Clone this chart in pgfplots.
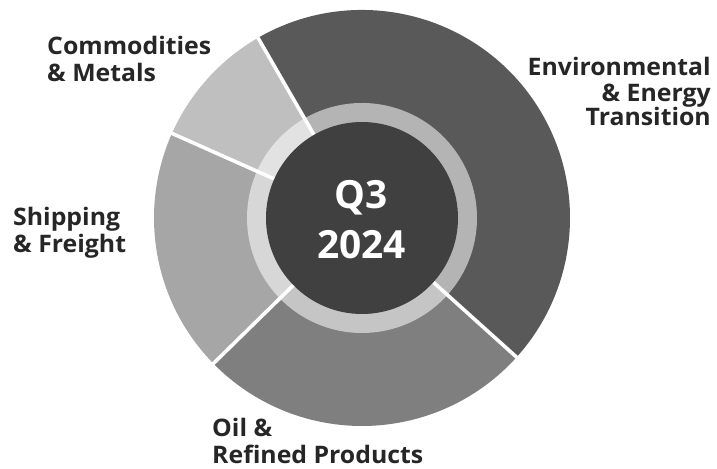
\documentclass[border=0pt]{standalone}
\usepackage{pgfplots}
\usepackage{pgfplotstable}
\pgfplotsset{compat=1.18}
\usepackage{fontspec}
\setmainfont{Open Sans}
\newfontfamily\labelfam{Open Sans}[FakeStretch=1.03]
\definecolor{c0}{HTML}{595959}
\definecolor{c1}{HTML}{7F7F7F}
\definecolor{c2}{HTML}{A6A6A6}
\definecolor{c3}{HTML}{BFBFBF}
\definecolor{centre}{HTML}{404040}
\definecolor{txt}{HTML}{262626}
\newcommand\labelfont{\labelfam\fontsize{24.2}{26}\selectfont\bfseries}
\newcommand\centrefont{\fontsize{39}{44}\selectfont\bfseries}
\pgfplotstableread[col sep=comma]{
id,share
0,45
1,26
2,19
3,10
}\piedata
\begin{document}
\begin{tikzpicture}
\xdef\angA{120}
\foreach \i in {0,...,3} {
  \pgfplotstablegetelem{\i}{share}\of\piedata
  \pgfmathsetmacro\angB{\angA - 3.6*\pgfplotsretval}
  \expandafter\xdef\csname sa\i\endcsname{\angA}
  \expandafter\xdef\csname ea\i\endcsname{\angB}
  \xdef\angA{\angB}
}
\begin{axis}[
  x=1bp, y=1bp, xmin=0, xmax=717, ymin=0, ymax=469,
  hide axis, clip=false,
]
\coordinate (BL) at (0,0);
\coordinate (TR) at (717,469);
\pgfplotsinvokeforeach{0,...,3}{
  \fill[c#1] (362,251) -- ++(\csname sa#1\endcsname:208bp)
    arc[start angle=\csname sa#1\endcsname, end angle=\csname ea#1\endcsname, radius=208bp] -- cycle;
  \fill[c#1!45!white] (362,251) -- ++(\csname sa#1\endcsname:115bp)
    arc[start angle=\csname sa#1\endcsname, end angle=\csname ea#1\endcsname, radius=115bp] -- cycle;
}
\pgfplotsinvokeforeach{0,...,3}{
  \draw[white, line width=3.6bp] (362,251) -- ++(\csname sa#1\endcsname:210bp);
}
\fill[centre] (362,251) circle[radius=96bp];
\node[anchor=base, text=white, font=\centrefont, inner sep=0pt] at (361,260.7) {Q3};
\node[anchor=base, text=white, font=\centrefont, inner sep=0pt] at (361.5,210.7) {2024};
% labels
\node[anchor=base west, text=txt, font=\labelfont, inner sep=0pt] at (47,414) {Commodities};
\node[anchor=base west, text=txt, font=\labelfont, inner sep=0pt] at (47,387.5) {\& Metals};
\node[anchor=base east, text=txt, font=\labelfont, inner sep=0pt] at (711,393.3) {Environmental};
\node[anchor=base east, text=txt, font=\labelfont, inner sep=0pt] at (711,367.8) {\& Energy};
\node[anchor=base east, text=txt, font=\labelfont, inner sep=0pt] at (711,343) {Transition};
\node[anchor=base west, text=txt, font=\labelfont, inner sep=0pt] at (13,243.3) {Shipping};
\node[anchor=base west, text=txt, font=\labelfont, inner sep=0pt] at (13,216) {\& Freight};
\node[anchor=base west, text=txt, font=\labelfont, inner sep=0pt] at (212,32) {Oil \&};
\node[anchor=base west, text=txt, font=\labelfont, inner sep=0pt] at (212,5.5) {Refined Products};
\end{axis}
\pgfresetboundingbox
\path[use as bounding box] (BL) rectangle (TR);
\end{tikzpicture}
\end{document}
